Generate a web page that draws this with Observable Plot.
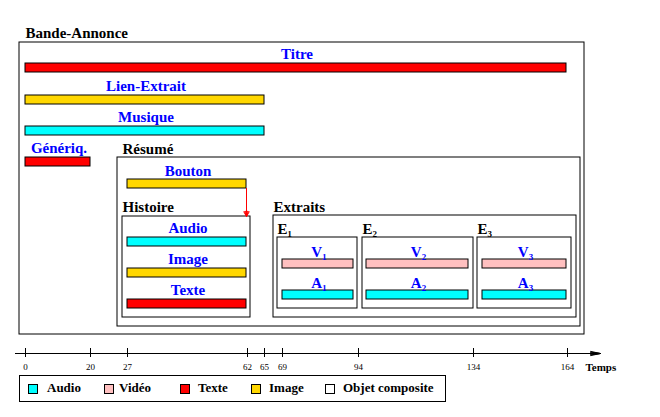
<!DOCTYPE html>
<html>
<head>
<meta charset="utf-8">
<script src="https://cdn.jsdelivr.net/npm/d3@7"></script>
<script src="https://cdn.jsdelivr.net/npm/@observablehq/plot@0.6"></script>
<style>
  body { margin: 0; background: #fff; font-family: "Liberation Serif", serif; }
  #wrap { position: relative; width: 660px; height: 417px; overflow: hidden; }
  #chart svg { display: block; }
  .legend { position: absolute; left: 19px; top: 375px; width: 427px; height: 27px; box-sizing: border-box;
            border: 1px solid #000; }
  .sw { position: absolute; top: 8px; width: 8px; height: 8px; border: 1px solid #000; }
  .lb { position: absolute; top: 4px; font: bold 13px "Liberation Serif", serif; color: #000; white-space: nowrap; line-height: 16px; }
</style>
</head>
<body>
<div id="wrap">
  <div id="chart"></div>
  <div class="legend" id="legend"></div>
</div>
<script>
// ---------- DATA ----------
const barNames  = ["Titre", "Lien-Extrait", "Musique", "Génériq.", "Bouton", "Audio", "Image", "Texte", "V₁", "A₁", "V₂", "A₂", "V₃", "A₃"];
const barStart  = [0, 0, 0, 0, 27, 27, 27, 27, 69, 69, 94, 94, 134, 134];
const barEnd    = [164, 65, 65, 20, 62, 62, 62, 62, 94, 94, 134, 134, 164, 164];
const barType   = ["Texte", "Image", "Audio", "Texte", "Image", "Audio", "Image", "Texte", "Vidéo", "Audio", "Vidéo", "Audio", "Vidéo", "Audio"];

const compNames = ["Bande-Annonce", "Résumé", "Histoire", "Extraits", "E₁", "E₂", "E₃"];
const compStart = [0, 27, 27, 69, 69, 94, 134];
const compEnd   = [164, 164, 62, 164, 94, 134, 164];

const tickValues = [0, 20, 27, 62, 65, 69, 94, 134, 164];
const axisLabel = "Temps";

const mediaTypes  = ["Audio", "Vidéo", "Texte", "Image"];
const mediaColors = ["#00ffff", "#ffc0c0", "#ff0000", "#ffd700"];
const legendLabels = ["Audio", "Vidéo", "Texte", "Image", "Objet composite"];
const legendColors = ["#00ffff", "#ffc0c0", "#ff0000", "#ffd700", "#ffffff"];

// ---------- LAYOUT (schematic, not data) ----------
const W = 660, H = 373;
const tickPx = [25, 90, 127, 247, 264, 282, 358, 473, 567]; // piecewise time axis
const barHeight = 9;
const barLayout = {
  "Titre":        {top: 63,  l: 0, r: 1, gap: 5},
  "Lien-Extrait": {top: 95,  l: 0, r: 0, gap: 5},
  "Musique":      {top: 126, l: 0, r: 0, gap: 5},
  "Génériq.":     {top: 157, l: 0, r: 0, gap: 5},
  "Bouton":       {top: 179, l: 0, r: 1, gap: 4},
  "Audio":        {top: 237, l: 0, r: 1, gap: 5},
  "Image":        {top: 268, l: 0, r: 1, gap: 5},
  "Texte":        {top: 299, l: 0, r: 1, gap: 5},
  "V₁": {top: 259, l: 0, r: 5, gap: 3}, "A₁": {top: 290, l: 0, r: 5, gap: 3},
  "V₂": {top: 259, l: 8, r: 5, gap: 3}, "A₂": {top: 290, l: 8, r: 5, gap: 3},
  "V₃": {top: 259, l: 9, r: 1, gap: 3}, "A₃": {top: 290, l: 9, r: 1, gap: 3}
};
const compLayout = {
  "Bande-Annonce": {top: 42,  bottom: 334, padL: 6,  padR: 17, label: 37,  dx: 0},
  "Résumé":        {top: 157, bottom: 326, padL: 10, padR: 13, label: 153, dx: -5},
  "Histoire":      {top: 216, bottom: 317, padL: 5,  padR: 3,  label: 211, dx: -5},
  "Extraits":      {top: 215, bottom: 317, padL: 9,  padR: 9,  label: 211, dx: -9},
  "E₁":            {top: 237, bottom: 308, padL: 5,  padR: -1, label: 233, dx: -5},
  "E₂":            {top: 237, bottom: 308, padL: -4, padR: 0,  label: 233, dx: 4},
  "E₃":            {top: 237, bottom: 308, padL: -4, padR: 4,  label: 233, dx: 4}
};
const axisY = 353, tickTop = 348, tickBottom = 357, tickLabelY = 369;
const axisLeftPx = 15, axisRightPx = 600, axisLabelPx = 585;
const legendSwatchLeft = [8, 84, 160, 231, 305];
const legendTextLeft   = [27, 99, 178, 249, 323];

// ---------- BUILD ----------
const bars = barNames.map((name, i) => ({name, start: barStart[i], end: barEnd[i], type: barType[i]}));
const comps = compNames.map((name, i) => ({name, start: compStart[i], end: compEnd[i]}));
const xs = d3.scaleLinear().domain(tickValues).range(tickPx);

const marks = [];
const font = {fontFamily: "Liberation Serif", fontWeight: "bold"};

comps.forEach(c => {
  const L = compLayout[c.name];
  marks.push(Plot.rect([c], {x1: "start", x2: "end", y1: () => L.top, y2: () => L.bottom,
    insetLeft: -L.padL, insetRight: -L.padR, fill: "none", stroke: "black"}));
  marks.push(Plot.text([c], {x: "start", y: () => L.label, dx: L.dx, text: "name",
    textAnchor: "start", lineAnchor: "bottom", fontSize: 15, fill: "black", ...font}));
});

bars.forEach(b => {
  const L = barLayout[b.name];
  marks.push(Plot.rect([b], {x1: "start", x2: "end", y1: () => L.top, y2: () => L.top + barHeight,
    insetLeft: L.l, insetRight: L.r, fill: d => d.type, stroke: "black"}));
  const cx = (xs(b.start) + L.l + xs(b.end) - L.r) / 2;
  marks.push(Plot.text([b], {x: "start", dx: cx - xs(b.start) + 1, y: () => L.top - L.gap, text: "name",
    textAnchor: "middle", lineAnchor: "bottom", fontSize: 15, fill: "#0000ff", ...font}));
});

// red synchronisation arrow from Bouton to Histoire
const bouton = bars.find(b => b.name === "Bouton");
[20, 40, 60].forEach(a => {
  marks.push(Plot.arrow([bouton], {x1: "end", x2: "end",
    y1: () => barLayout["Bouton"].top + barHeight, y2: () => compLayout["Histoire"].top,
    dx: -1, stroke: "#ff0000", strokeWidth: 1, headLength: 8, headAngle: a}));
});

// time axis
[8, 16, 24].forEach(a => {
  marks.push(Plot.arrow([0], {x1: () => xs.invert(axisLeftPx), x2: () => xs.invert(axisRightPx),
    y1: () => axisY, y2: () => axisY, stroke: "black", strokeWidth: 1, headLength: 15, headAngle: a}));
});
marks.push(Plot.ruleX(tickValues, {x: d => d, y1: () => tickTop, y2: () => tickBottom, stroke: "black"}));
marks.push(Plot.text(tickValues, {x: d => d, y: () => tickLabelY, text: d => String(d),
  fontSize: 9, fontFamily: "Liberation Serif", lineAnchor: "bottom", textAnchor: "middle", fill: "black"}));
marks.push(Plot.text([axisLabel], {x: () => xs.invert(axisLabelPx), y: () => tickLabelY + 1, text: d => d,
  textAnchor: "start", lineAnchor: "bottom", fontSize: 11, fill: "black", ...font}));

const chart = Plot.plot({
  width: W, height: H,
  marginTop: 0, marginRight: 0, marginBottom: 0, marginLeft: 0,
  x: {type: "linear", domain: tickValues, range: tickPx, axis: null},
  y: {type: "linear", domain: [0, H], range: [0, H], axis: null},
  color: {domain: mediaTypes, range: mediaColors},
  style: {background: "white", fontFamily: "Liberation Serif", overflow: "visible"},
  marks
});
document.getElementById("chart").append(chart);

// legend
const legend = document.getElementById("legend");
legendLabels.forEach((lab, i) => {
  const sw = document.createElement("span");
  sw.className = "sw";
  sw.style.left = legendSwatchLeft[i] + "px";
  sw.style.background = legendColors[i];
  const tx = document.createElement("span");
  tx.className = "lb";
  tx.style.left = legendTextLeft[i] + "px";
  tx.textContent = lab;
  legend.append(sw, tx);
});
</script>
</body>
</html>
